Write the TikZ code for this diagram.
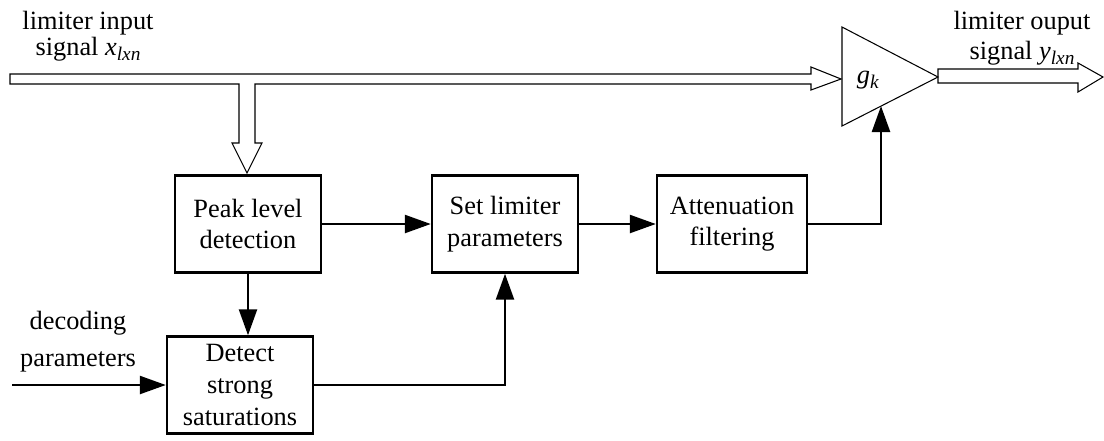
\documentclass[tikz,border=0pt]{standalone}
\usepackage{fontspec}
\setmainfont{LiberationSerif}[Extension=.ttf,UprightFont=*-Regular,
  ItalicFont=*-Italic,BoldFont=*-Bold,BoldItalicFont=*-BoldItalic]
\usetikzlibrary{arrows.meta}
\newcommand{\sigsub}[2]{\textit{#1}\raisebox{-0.45ex}{\fontsize{11}{11}\selectfont\textit{#2}}}

\begin{document}
\begin{tikzpicture}[x=0.02cm,y=-0.02cm,
    blk/.style={draw,line width=1.4pt,minimum width=2.92cm,minimum height=1.94cm,
      align=center,inner sep=2pt,font=\fontsize{15}{18}\selectfont},
    flow/.style={line width=1.4pt,-{Triangle[length=0.52cm,width=0.36cm]}},
    hollow/.style={draw,line width=0.6pt},
    lbl/.style={align=center,font=\fontsize{15}{15}\selectfont}]
  \useasboundingbox (0,0) rectangle (1104,440);

  % processing blocks
  \node[blk] (peak) at (248,224) {Peak level\\detection};
  \node[blk] (setp) at (505,224) {Set limiter\\parameters};
  \node[blk,minimum width=3cm] (atten) at (732,224) {Attenuation\\filtering};
  \node[blk] (detect) at (240,385) {Detect\\strong\\saturations};

  % gain element
  \coordinate (gtop) at (842,27);
  \coordinate (gbot) at (842,126);
  \coordinate (gtip) at (938,77);
  \coordinate (gin) at (881,106);
  \draw[hollow] (gtop) -- (gtip) -- (gbot) -- cycle;
  \node[font=\fontsize{15}{15}\selectfont] (gk) at (868,80) {\sigsub{g}{k}};

  % signal paths (hollow)
  \draw[hollow] (10,74) -- (811,74) -- (811,67) -- (841,79) -- (811,90) -- (811,84)
    -- (255,84) -- (255,143) -- (262,143) -- (247,173) -- (232,143) -- (239,143)
    -- (239,84) -- (10,84) -- cycle;
  \draw[hollow] (gtip) -- (938,69) -- (1078,69) -- (1078,63) -- (1103,77)
    -- (1078,92) -- (1078,83) -- (938,83) -- cycle;

  % labels
  \node[lbl] (inlbl) at (88,36) {limiter input\\signal \sigsub{x}{lxn}};
  \node[lbl,font=\fontsize{15}{17}\selectfont] (outlbl) at (1022,38) {limiter ouput\\signal \sigsub{y}{lxn}};
  \node[lbl,font=\fontsize{15}{21}\selectfont] (declbl) at (78,342) {decoding\\parameters};
  \coordinate (decin) at (12,385);

  % control paths
  \foreach \a/\b in {peak/setp, setp/atten}
    \draw[flow] (\a) -- (\b);
  \draw[flow] (atten.east) -| (gin);
  \draw[flow] (peak.south) -- (peak.south |- detect.north);
  \draw[flow] (decin) -- (detect.west);
  \draw[flow] (detect.east) -| (setp.south);
\end{tikzpicture}
\end{document}
